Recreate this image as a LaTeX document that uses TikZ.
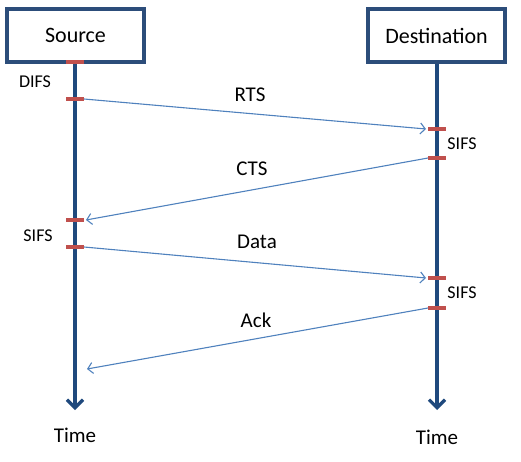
\documentclass[tikz,border=0pt]{standalone}
\usepackage{fontspec}
\setmainfont{Carlito}
\usetikzlibrary{arrows.meta}
\definecolor{boxblue}{HTML}{2C4D7A}
\definecolor{lineblue}{HTML}{1F497D}
\definecolor{tickred}{HTML}{C0504D}
\definecolor{msgblue}{HTML}{4F81BD}
\begin{document}
\begin{tikzpicture}[x=1pt,y=-1pt,
  entity/.style={draw=boxblue,line width=3.2pt,minimum width=137pt,minimum height=53pt,inner sep=0pt,font=\fontsize{22}{26}\selectfont},
  timeline/.style={draw=lineblue,line width=3.3pt,-{Straight Barb[length=8pt,width=16pt,line width=3.3pt]}},
  tick/.style={draw=tickred,line width=3.2pt},
  msg/.style={draw=msgblue,line width=1.1pt,-{Straight Barb[length=5pt,width=11pt,line width=1.1pt]}},
  msglabel/.style={font=\fontsize{21}{25}\selectfont,inner sep=0pt},
  gaplabel/.style={font=\fontsize{18}{22}\selectfont,inner sep=0pt},
  timelabel/.style={font=\fontsize{21}{25}\selectfont,inner sep=0pt}]
\useasboundingbox (0,0) rectangle (521,462);
% entities
\node[entity] (src) at (75.5,35.5) {Source};
\node[entity] (dst) at (436.5,35.5) {Destination};
% timeline ends
\coordinate (srcEnd) at (75,410);
\coordinate (dstEnd) at (437,410);
\draw[timeline] (src.south -| srcEnd) -- (srcEnd);
\draw[timeline] (dst.south -| dstEnd) -- (dstEnd);
% tick coordinates
\coordinate (s0) at (75,62);
\coordinate (s1) at (75,99);
\coordinate (s2) at (75,220);
\coordinate (s3) at (75,247);
\coordinate (d1) at (437,129);
\coordinate (d2) at (437,158);
\coordinate (d3) at (437,278);
\coordinate (d4) at (437,308);
\coordinate (ackEnd) at (87,369);
\foreach \c in {s0,s1,s2,s3,d1,d2,d3,d4}
  \draw[tick] ([xshift=-9pt]\c) -- ([xshift=9pt]\c);
% messages
\draw[msg] ([xshift=9pt]s1) -- ([xshift=-11pt]d1);
\draw[msg] ([xshift=-9pt]d2) -- ([xshift=11pt]s2);
\draw[msg] ([xshift=9pt]s3) -- ([xshift=-11pt]d3);
\draw[msg] ([xshift=-9pt]d4) -- (ackEnd);
% labels
\node[msglabel] (rts) at (250,95) {RTS};
\node[msglabel] (cts) at (252,169) {CTS};
\node[msglabel] (data) at (257,242) {Data};
\node[msglabel] (ack) at (256,320) {Ack};
\node[gaplabel] (difs) at (35,82) {DIFS};
\node[gaplabel] (sifs1) at (462,144) {SIFS};
\node[gaplabel] (sifs2) at (38,236) {SIFS};
\node[gaplabel] (sifs3) at (462,293) {SIFS};
\node[timelabel] (time1) at (75,435) {Time};
\node[timelabel] (time2) at (437,437) {Time};
\end{tikzpicture}
\end{document}
